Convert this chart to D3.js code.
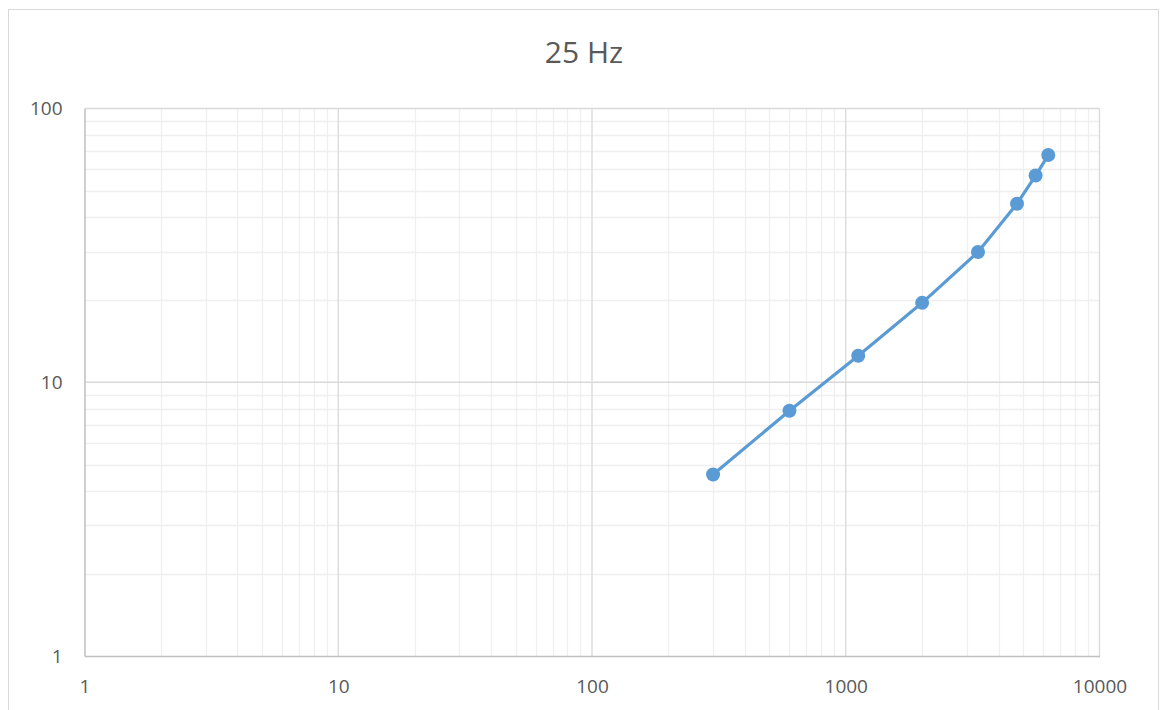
<!DOCTYPE html>
<html>
<head>
<meta charset="utf-8">
<script src="https://cdn.jsdelivr.net/npm/d3@7"></script>
<style>
  html, body { margin: 0; padding: 0; background: #fff; }
  svg { display: block; font-family: "Open Sans", "Liberation Sans", sans-serif; }
</style>
</head>
<body>
<svg id="chart" width="1160" height="710"></svg>
<script>
// Measured points of the 25 Hz series
const xValues = [300, 600, 1120, 2000, 3320, 4730, 5600, 6280];
const yValues = [4.6, 7.87, 12.5, 19.5, 29.9, 44.9, 56.9, 67.6];
const xTickValues = [1, 10, 100, 1000, 10000];
const yTickValues = [1, 10, 100];
const titleText = "25 Hz";

const svg = d3.select("#chart");
const W = 1160, H = 710;
const plot = { left: 84.5, right: 1099.5, top: 108.5, bottom: 656 };

// Outer chart frame
svg.append("rect")
  .attr("x", 8.5).attr("y", 9.5)
  .attr("width", 1150).attr("height", 720)
  .attr("fill", "#fff").attr("stroke", "#d9d9d9").attr("stroke-width", 1);

const x = d3.scaleLog().domain([1, 10000]).range([plot.left, plot.right]);
const y = d3.scaleLog().domain([1, 100]).range([plot.bottom, plot.top]);

// Minor gridlines (2..9 within each decade)
const minorX = [], minorY = [];
for (let d = 1; d < 10000; d *= 10) for (let k = 2; k <= 9; k++) minorX.push(d * k);
for (let d = 1; d < 100; d *= 10) for (let k = 2; k <= 9; k++) minorY.push(d * k);

const grid = svg.append("g");
grid.selectAll(".mx").data(minorX).join("line")
  .attr("x1", d => Math.round(x(d)) + 0.5).attr("x2", d => Math.round(x(d)) + 0.5)
  .attr("y1", plot.top).attr("y2", plot.bottom)
  .attr("stroke", "#efefef").attr("stroke-width", 1.3);
grid.selectAll(".my").data(minorY).join("line")
  .attr("y1", d => Math.round(y(d)) + 0.5).attr("y2", d => Math.round(y(d)) + 0.5)
  .attr("x1", plot.left).attr("x2", plot.right)
  .attr("stroke", "#efefef").attr("stroke-width", 1.3);

// Major gridlines
grid.selectAll(".Mx").data(xTickValues.slice(1)).join("line")
  .attr("x1", d => x(d)).attr("x2", d => x(d))
  .attr("y1", plot.top).attr("y2", plot.bottom)
  .attr("stroke", "#d9d9d9").attr("stroke-width", 1.3);
grid.selectAll(".My").data(yTickValues.slice(1)).join("line")
  .attr("y1", d => y(d)).attr("y2", d => y(d))
  .attr("x1", plot.left).attr("x2", plot.right)
  .attr("stroke", "#d9d9d9").attr("stroke-width", 1.3);

// Axes (left and bottom)
const fmt = d => String(d);
const xAxis = svg.append("g")
  .attr("transform", `translate(0,${plot.bottom})`)
  .call(d3.axisBottom(x).tickValues(xTickValues).tickFormat(fmt).tickSize(0).tickPadding(24));
const yAxis = svg.append("g")
  .attr("transform", `translate(${plot.left},0)`)
  .call(d3.axisLeft(y).tickValues(yTickValues).tickFormat(fmt).tickSize(0).tickPadding(22));
[xAxis, yAxis].forEach(g => {
  g.select(".domain").attr("stroke", "#bfbfbf").attr("stroke-width", 1.5);
  g.selectAll("text").attr("fill", "#595959").attr("font-size", 19)
    .attr("font-family", "\"Open Sans\", \"Liberation Sans\", sans-serif");
});

// Series line and markers
const pts = xValues.map((v, i) => [v, yValues[i]]);
svg.append("path")
  .datum(pts)
  .attr("fill", "none").attr("stroke", "#5b9bd5").attr("stroke-width", 3.2)
  .attr("stroke-linejoin", "round")
  .attr("d", d3.line().x(d => x(d[0])).y(d => y(d[1])));
svg.selectAll(".pt").data(pts).join("circle")
  .attr("cx", d => x(d[0])).attr("cy", d => y(d[1])).attr("r", 7)
  .attr("fill", "#5b9bd5");

// Title
svg.append("text")
  .attr("x", 584).attr("y", 63)
  .attr("text-anchor", "middle")
  .attr("fill", "#595959").attr("font-size", 30)
  .text(titleText);
</script>
</body>
</html>
